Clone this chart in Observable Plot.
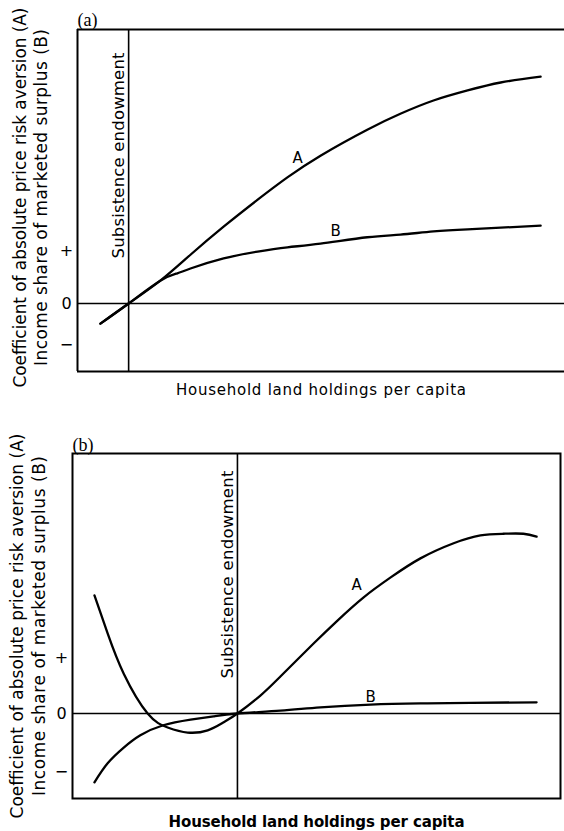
<!DOCTYPE html>
<html>
<head>
<meta charset="utf-8">
<script src="https://cdn.jsdelivr.net/npm/d3@7"></script>
<script src="https://cdn.jsdelivr.net/npm/@observablehq/plot@0.6"></script>
<style>
  body { margin: 0; background: #fff; }
  #chart svg { display: block; }
</style>
</head>
<body>
<div id="chart"></div>
<script>
// ---------- Text ----------
const yTitleLine1 = "Coefficient of absolute price risk aversion (A)";
const yTitleLine2 = "Income share of marketed surplus (B)";
const xTitle = "Household land holdings per capita";
const subsistenceLabel = "Subsistence endowment";
const tickLabels = ["+", "0", "\u2212"];

// ---------- Panel (a) ----------
const aLandA = [0.47, 1.05, 1.70, 2.32, 3.00, 3.70, 4.31, 4.99, 5.95, 6.63, 7.31, 8.01, 8.69, 9.51];
const aRiskA = [-0.38, 0, 0.43, 0.92, 1.45, 1.96, 2.38, 2.79, 3.28, 3.58, 3.83, 4.02, 4.17, 4.28];
const aLandB = [0.47, 1.05, 1.70, 2.05, 2.32, 3.00, 3.70, 4.31, 4.99, 5.95, 6.63, 7.31, 8.01, 8.69, 9.51];
const aShareB = [-0.38, 0, 0.43, 0.57, 0.66, 0.85, 0.98, 1.06, 1.13, 1.25, 1.30, 1.36, 1.40, 1.43, 1.47];
const aSubsistence = 1.05;
const aTickValues = [1, 0, -0.79];
const aLabelA = [4.52, 2.75];
const aLabelB = [5.30, 1.36];

// ---------- Panel (b) ----------
const bLandA = [0.45, 0.72, 1.05, 1.54, 1.95, 2.36, 2.77, 3.09, 3.38, 3.85, 4.26, 4.94, 5.43, 5.96, 6.52, 7.13, 7.81, 8.36, 8.83, 9.24, 9.51];
const bRiskA = [2.11, 1.43, 0.71, 0, -0.25, -0.34, -0.30, -0.16, 0, 0.32, 0.66, 1.25, 1.66, 2.07, 2.43, 2.77, 3.04, 3.18, 3.21, 3.21, 3.16];
const bLandB = [0.45, 0.72, 1.05, 1.39, 1.86, 2.42, 2.89, 3.38, 4.26, 5.08, 6.11, 7.13, 8.16, 9.51];
const bShareB = [-1.23, -0.89, -0.61, -0.39, -0.21, -0.11, -0.05, 0, 0.05, 0.11, 0.16, 0.18, 0.19, 0.20];
const bSubsistence = 3.38;
const bTickValues = [1, 0, -1.05];
const bLabelA = [5.82, 2.29];
const bLabelB = [6.11, 0.29];

function fitText(svg, content, length) {
  d3.select(svg).selectAll("text")
    .filter(function () { return this.textContent === content; })
    .attr("textLength", length)
    .attr("lengthAdjust", "spacing");
}

function panel(cfg) {
  const A = cfg.landA.map((x, i) => ({x, y: cfg.riskA[i]}));
  const B = cfg.landB.map((x, i) => ({x, y: cfg.shareB[i]}));
  const ticks = cfg.tickValues.map((v, i) => ({v, label: tickLabels[i]}));
  const marks = [
    Plot.ruleY([0], {stroke: "black", strokeWidth: 1.6}),
    Plot.ruleX([cfg.subsistence], {stroke: "black", strokeWidth: 1.6}),
  ];
  if (cfg.fullFrame) {
    marks.push(Plot.frame({stroke: "black", strokeWidth: 2}));
  } else {
    marks.push(Plot.ruleY(cfg.yDomain, {stroke: "black", strokeWidth: 2}));
    marks.push(Plot.ruleX([cfg.xDomain[0]], {stroke: "black", strokeWidth: 2}));
  }
  marks.push(
    Plot.line(A, {x: "x", y: "y", curve: "natural", stroke: "black", strokeWidth: 2.3}),
    Plot.line(B, {x: "x", y: "y", curve: "natural", stroke: "black", strokeWidth: 2.3}),
    Plot.text([{p: cfg.labelA, t: "A"}, {p: cfg.labelB, t: "B"}], {
      x: d => d.p[0], y: d => d.p[1], text: d => d.t, fontSize: 15, fill: "black"
    }),
    Plot.text([subsistenceLabel], {
      x: () => cfg.subsistence, text: d => d, frameAnchor: "top", rotate: -90,
      textAnchor: "end", lineAnchor: "middle", dx: cfg.subsDx, dy: cfg.subsDy, fontSize: 16.5, fill: "black"
    }),
    Plot.text(ticks, {
      y: "v", text: "label", frameAnchor: "left", textAnchor: "middle", dx: -11, fontSize: 16, fill: "black"
    }),
    Plot.text([yTitleLine1], {
      text: d => d, frameAnchor: "left", rotate: -90, textAnchor: "middle", lineAnchor: "middle",
      dx: cfg.y1Dx, dy: cfg.yTitleDy, fontSize: 17, fill: "black"
    }),
    Plot.text([yTitleLine2], {
      text: d => d, frameAnchor: "left", rotate: -90, textAnchor: "middle", lineAnchor: "middle",
      dx: cfg.y2Dx, dy: cfg.yTitleDy, fontSize: 17, fill: "black"
    }),
    Plot.text([xTitle], {
      text: d => d, frameAnchor: "bottom", textAnchor: "middle", lineAnchor: "middle", dy: cfg.xTitleDy,
      fontSize: 15, fontWeight: cfg.xTitleWeight, fill: "black"
    }),
    Plot.text([cfg.tag], {
      text: d => d, frameAnchor: "top-left", textAnchor: "start", lineAnchor: "bottom",
      dy: cfg.tagDy, fontFamily: "Liberation Serif", fontSize: 18, fill: "black"
    })
  );
  const svg = Plot.plot({
    width: 564,
    height: cfg.height,
    marginTop: cfg.marginTop,
    marginBottom: cfg.marginBottom,
    marginLeft: cfg.marginLeft,
    marginRight: cfg.marginRight,
    x: {domain: cfg.xDomain, axis: null},
    y: {domain: cfg.yDomain, axis: null},
    style: {fontFamily: "DejaVu Sans", background: "white", color: "black", overflow: "visible"},
    marks
  });
  fitText(svg, xTitle, cfg.xTitleLen);
  fitText(svg, yTitleLine1, cfg.y1Len);
  fitText(svg, yTitleLine2, cfg.y2Len);
  fitText(svg, subsistenceLabel, cfg.subsLen);
  return svg;
}

const chart = document.getElementById("chart");
chart.append(panel({
  tag: "(a)",
  landA: aLandA, riskA: aRiskA, landB: aLandB, shareB: aShareB,
  subsistence: aSubsistence, tickValues: aTickValues,
  labelA: aLabelA, labelB: aLabelB,
  xDomain: [0, 10], yDomain: [-1.283, 5.17],
  height: 400, marginTop: 29, marginBottom: 29, marginLeft: 77, marginRight: 0,
  fullFrame: false,
  subsDx: -10, subsDy: 23, subsLen: 206,
  y1Dx: -57, y2Dx: -36, yTitleDy: -3, y1Len: 380, y2Len: 337,
  xTitleDy: 19, xTitleWeight: "normal", xTitleLen: 290,
  tagDy: -4
}));
chart.append(panel({
  tag: "(b)",
  landA: bLandA, riskA: bRiskA, landB: bLandB, shareB: bShareB,
  subsistence: bSubsistence, tickValues: bTickValues,
  labelA: bLabelA, labelB: bLabelB,
  xDomain: [0, 10], yDomain: [-1.518, 4.643],
  height: 431, marginTop: 53, marginBottom: 33, marginLeft: 72, marginRight: 4,
  fullFrame: true,
  subsDx: -10, subsDy: 17, subsLen: 208,
  y1Dx: -55, y2Dx: -33, yTitleDy: 0, y1Len: 385, y2Len: 340,
  xTitleDy: 24, xTitleWeight: "bold", xTitleLen: 296,
  tagDy: -3
}));
</script>
</body>
</html>
